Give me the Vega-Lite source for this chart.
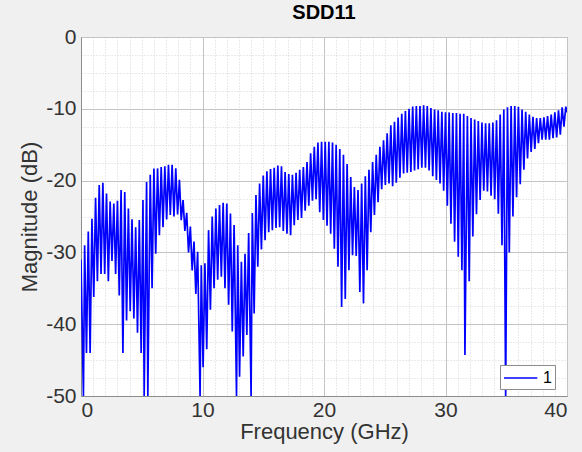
{
  "$schema": "https://vega.github.io/schema/vega-lite/v6.json",
  "width": 486,
  "height": 359,
  "autosize": {"type": "none"},
  "padding": {"left": 81, "top": 37, "right": 15, "bottom": 56},
  "background": "#f0f0f0",
  "config": {
    "view": {"fill": "white", "stroke": "#8c8c8c", "strokeWidth": 1},
    "font": "Liberation Sans"
  },
  "title": {"text": "SDD11", "fontSize": 20, "fontWeight": "bold", "color": "#000000", "offset": 3, "anchor": "middle", "font": "Liberation Sans"},
  "data": {"values": [
    {"f":0,"m":-31},{"f":0.2,"m":-50},{"f":0.3,"m":-29},{"f":0.45,"m":-44},{"f":0.6,"m":-27.1},{"f":0.75,"m":-44},{"f":0.9,"m":-25.3},{"f":1.05,"m":-36.2},{"f":1.2,"m":-22.4},{"f":1.35,"m":-34},{"f":1.5,"m":-20.6},{"f":1.65,"m":-33},{"f":1.8,"m":-20.3},{"f":1.95,"m":-33},{"f":2.1,"m":-21.8},{"f":2.25,"m":-34},{"f":2.4,"m":-22.9},{"f":2.55,"m":-31.2},{"f":2.7,"m":-23.2},{"f":2.85,"m":-33},{"f":3.0,"m":-22.8},{"f":3.15,"m":-36},{"f":3.3,"m":-21.3},{"f":3.45,"m":-44},{"f":3.6,"m":-21.6},{"f":3.75,"m":-39.5},{"f":3.9,"m":-23.9},{"f":4.05,"m":-38.2},{"f":4.2,"m":-25.4},{"f":4.35,"m":-39.2},{"f":4.5,"m":-26.5},{"f":4.65,"m":-41.2},{"f":4.8,"m":-25.5},{"f":4.95,"m":-44},{"f":5.1,"m":-22.7},{"f":5.2,"m":-50},{"f":5.4,"m":-20.2},{"f":5.5,"m":-50},{"f":5.7,"m":-19.2},{"f":5.85,"m":-35},{"f":6.0,"m":-18.3},{"f":6.15,"m":-30.2},{"f":6.3,"m":-18.3},{"f":6.45,"m":-27.6},{"f":6.6,"m":-18.1},{"f":6.75,"m":-26.5},{"f":6.9,"m":-18},{"f":7.05,"m":-25.4},{"f":7.2,"m":-17.8},{"f":7.35,"m":-24.8},{"f":7.5,"m":-17.8},{"f":7.65,"m":-25},{"f":7.8,"m":-18.3},{"f":7.95,"m":-24.7},{"f":8.1,"m":-19.9},{"f":8.25,"m":-25.5},{"f":8.4,"m":-22.7},{"f":8.55,"m":-27},{"f":8.7,"m":-24.5},{"f":8.85,"m":-30},{"f":9.0,"m":-26.4},{"f":9.15,"m":-32.5},{"f":9.3,"m":-28.5},{"f":9.45,"m":-35.8},{"f":9.6,"m":-29.9},{"f":9.8,"m":-50},{"f":9.9,"m":-31.8},{"f":10.05,"m":-46},{"f":10.2,"m":-31.5},{"f":10.35,"m":-43.5},{"f":10.5,"m":-26.9},{"f":10.65,"m":-38},{"f":10.8,"m":-25},{"f":10.95,"m":-35},{"f":11.1,"m":-23.9},{"f":11.25,"m":-33.8},{"f":11.4,"m":-23.4},{"f":11.55,"m":-33.4},{"f":11.7,"m":-23.1},{"f":11.85,"m":-35},{"f":12.0,"m":-23.2},{"f":12.15,"m":-37.3},{"f":12.3,"m":-24.6},{"f":12.45,"m":-41},{"f":12.6,"m":-26.2},{"f":12.8,"m":-50},{"f":12.9,"m":-29},{"f":13.05,"m":-47.3},{"f":13.2,"m":-31.3},{"f":13.35,"m":-44.5},{"f":13.5,"m":-30.2},{"f":13.65,"m":-41.5},{"f":13.8,"m":-27.3},{"f":14.0,"m":-50},{"f":14.1,"m":-24.5},{"f":14.25,"m":-38.5},{"f":14.4,"m":-22},{"f":14.55,"m":-32},{"f":14.7,"m":-20.4},{"f":14.85,"m":-29.6},{"f":15.0,"m":-19.3},{"f":15.15,"m":-28.3},{"f":15.3,"m":-18.7},{"f":15.45,"m":-27.2},{"f":15.6,"m":-18.4},{"f":15.75,"m":-26.9},{"f":15.9,"m":-18.2},{"f":16.05,"m":-26.6},{"f":16.2,"m":-17.9},{"f":16.35,"m":-26.5},{"f":16.5,"m":-18},{"f":16.65,"m":-27},{"f":16.8,"m":-18.8},{"f":16.95,"m":-27.4},{"f":17.1,"m":-19.1},{"f":17.25,"m":-27.6},{"f":17.4,"m":-19.2},{"f":17.55,"m":-26.2},{"f":17.7,"m":-18.9},{"f":17.85,"m":-25.5},{"f":18.0,"m":-18.5},{"f":18.15,"m":-25.2},{"f":18.3,"m":-18.1},{"f":18.45,"m":-24.2},{"f":18.6,"m":-17.4},{"f":18.75,"m":-23.5},{"f":18.9,"m":-16.2},{"f":19.05,"m":-22.8},{"f":19.2,"m":-15.3},{"f":19.35,"m":-22.6},{"f":19.5,"m":-14.7},{"f":19.65,"m":-24.4},{"f":19.8,"m":-14.6},{"f":19.95,"m":-25.5},{"f":20.1,"m":-14.6},{"f":20.25,"m":-26.3},{"f":20.4,"m":-14.6},{"f":20.55,"m":-27.4},{"f":20.7,"m":-14.7},{"f":20.85,"m":-29.5},{"f":21.0,"m":-15},{"f":21.15,"m":-32},{"f":21.3,"m":-15.6},{"f":21.45,"m":-37.6},{"f":21.6,"m":-16.4},{"f":21.75,"m":-36.5},{"f":21.9,"m":-17.7},{"f":22.05,"m":-32.5},{"f":22.2,"m":-19.5},{"f":22.35,"m":-30.4},{"f":22.5,"m":-20.9},{"f":22.65,"m":-30.5},{"f":22.8,"m":-21.3},{"f":22.95,"m":-35.5},{"f":23.1,"m":-20.4},{"f":23.25,"m":-37.1},{"f":23.4,"m":-19.4},{"f":23.55,"m":-32.5},{"f":23.7,"m":-18.5},{"f":23.85,"m":-27.2},{"f":24.0,"m":-17.4},{"f":24.15,"m":-24.8},{"f":24.3,"m":-16.4},{"f":24.45,"m":-23},{"f":24.6,"m":-15.3},{"f":24.75,"m":-21.2},{"f":24.9,"m":-14.4},{"f":25.05,"m":-20.6},{"f":25.2,"m":-13.4},{"f":25.35,"m":-20.4},{"f":25.5,"m":-12.3},{"f":25.65,"m":-20.8},{"f":25.8,"m":-11.8},{"f":25.95,"m":-20.3},{"f":26.1,"m":-11.2},{"f":26.25,"m":-19.6},{"f":26.4,"m":-10.7},{"f":26.55,"m":-19},{"f":26.7,"m":-10.3},{"f":26.85,"m":-18.9},{"f":27.0,"m":-10},{"f":27.15,"m":-18.8},{"f":27.3,"m":-9.7},{"f":27.45,"m":-18.6},{"f":27.6,"m":-9.6},{"f":27.75,"m":-18.4},{"f":27.9,"m":-9.6},{"f":28.05,"m":-18.2},{"f":28.2,"m":-9.5},{"f":28.35,"m":-18.2},{"f":28.5,"m":-9.6},{"f":28.65,"m":-18.6},{"f":28.8,"m":-9.9},{"f":28.95,"m":-19.4},{"f":29.1,"m":-10.1},{"f":29.25,"m":-19.9},{"f":29.4,"m":-10.2},{"f":29.55,"m":-20.4},{"f":29.7,"m":-10.4},{"f":29.85,"m":-21.4},{"f":30.0,"m":-10.5},{"f":30.15,"m":-23.5},{"f":30.3,"m":-10.5},{"f":30.45,"m":-26},{"f":30.6,"m":-10.6},{"f":30.75,"m":-28.5},{"f":30.9,"m":-10.6},{"f":31.05,"m":-30.6},{"f":31.2,"m":-10.7},{"f":31.35,"m":-32.5},{"f":31.5,"m":-10.7},{"f":31.6,"m":-44.3},{"f":31.8,"m":-11},{"f":31.95,"m":-34},{"f":32.1,"m":-11.3},{"f":32.25,"m":-27.8},{"f":32.4,"m":-11.5},{"f":32.55,"m":-24.7},{"f":32.7,"m":-11.7},{"f":32.85,"m":-22.7},{"f":33.0,"m":-11.9},{"f":33.15,"m":-21.4},{"f":33.3,"m":-12},{"f":33.45,"m":-21.5},{"f":33.6,"m":-12},{"f":33.75,"m":-22.1},{"f":33.9,"m":-11.9},{"f":34.05,"m":-22.6},{"f":34.2,"m":-11.6},{"f":34.35,"m":-24.6},{"f":34.5,"m":-10.8},{"f":34.65,"m":-29},{"f":34.8,"m":-10.1},{"f":34.95,"m":-50},{"f":35.1,"m":-9.8},{"f":35.25,"m":-30},{"f":35.4,"m":-9.6},{"f":35.55,"m":-25},{"f":35.7,"m":-9.6},{"f":35.85,"m":-22.3},{"f":36.0,"m":-9.7},{"f":36.15,"m":-20.5},{"f":36.3,"m":-10.1},{"f":36.45,"m":-18.5},{"f":36.6,"m":-10.4},{"f":36.75,"m":-16.9},{"f":36.9,"m":-10.8},{"f":37.05,"m":-16},{"f":37.2,"m":-11.1},{"f":37.35,"m":-15.6},{"f":37.5,"m":-11.3},{"f":37.65,"m":-14.8},{"f":37.8,"m":-11.3},{"f":37.95,"m":-14.3},{"f":38.1,"m":-11.2},{"f":38.25,"m":-14.3},{"f":38.4,"m":-11},{"f":38.55,"m":-14.3},{"f":38.7,"m":-10.8},{"f":38.85,"m":-14.1},{"f":39.0,"m":-10.5},{"f":39.15,"m":-14},{"f":39.3,"m":-10.2},{"f":39.45,"m":-13.6},{"f":39.6,"m":-9.8},{"f":39.75,"m":-12.5},{"f":39.9,"m":-9.7},{"f":40,"m":-10.5}
  ]},
  "layer": [
    {
      "mark": {"type": "point", "opacity": 0},
      "encoding": {
        "x": {"field": "f", "type": "quantitative", "scale": {"domain": [0, 40], "nice": false, "zero": false},
          "axis": {"orient": "bottom", "values": [1,2,3,4,5,6,7,8,9,11,12,13,14,15,16,17,18,19,21,22,23,24,25,26,27,28,29,31,32,33,34,35,36,37,38,39],
            "grid": true, "gridColor": "#d4d4d4", "gridDash": [1, 2], "gridWidth": 1, "labels": false, "ticks": false, "domain": false, "title": null}},
        "y": {"field": "m", "type": "quantitative", "scale": {"domain": [-50, 0], "nice": false, "zero": false},
          "axis": {"orient": "left", "values": [-47.5,-45,-42.5,-37.5,-35,-32.5,-27.5,-25,-22.5,-17.5,-15,-12.5,-7.5,-5,-2.5],
            "grid": true, "gridColor": "#d4d4d4", "gridDash": [1, 2], "gridWidth": 1, "labels": false, "ticks": false, "domain": false, "title": null}}
      }
    },
    {
      "mark": {"type": "line", "strokeWidth": 1.7, "clip": true},
      "encoding": {
        "x": {"field": "f", "type": "quantitative", "scale": {"domain": [0, 40], "nice": false, "zero": false},
          "axis": {"orient": "bottom", "values": [0, 10, 20, 30, 40], "grid": true, "gridColor": "#c4c4c4", "gridWidth": 1,
            "domainColor": "#8c8c8c", "ticks": false, "labelFontSize": 21, "labelColor": "#333333", "labelPadding": 3,
            "labelExpr": "'' + datum.value",
            "title": "Frequency (GHz)", "titleFontSize": 22, "titleFontWeight": "normal", "titleColor": "#333333", "titlePadding": 1, "labelFont": "Liberation Sans", "titleFont": "Liberation Sans"}},
        "y": {"field": "m", "type": "quantitative", "scale": {"domain": [-50, 0], "nice": false, "zero": false},
          "axis": {"orient": "left", "values": [-50, -40, -30, -20, -10, 0], "grid": true, "gridColor": "#c4c4c4", "gridWidth": 1,
            "domainColor": "#8c8c8c", "ticks": false, "labelFontSize": 21, "labelColor": "#333333", "labelPadding": 5,
            "labelExpr": "'' + datum.value",
            "title": "Magnitude (dB)", "titleFontSize": 22, "titleFontWeight": "normal", "titleColor": "#333333", "titlePadding": 4, "labelFont": "Liberation Sans", "titleFont": "Liberation Sans"}},
        "color": {"datum": "1", "type": "nominal", "scale": {"range": ["#0000ff"]},
          "legend": {"title": null, "orient": "none", "legendX": 419, "legendY": 328, "symbolType": "M-1,0H2.7", "symbolSize": 324, "symbolStrokeWidth": 1.5,
            "labelFontSize": 16, "labelColor": "#000000", "fillColor": "white", "strokeColor": "#8c8c8c", "padding": 3, "labelOffset": 20, "labelFont": "Liberation Sans"}}
      }
    }
  ],
  "resolve": {"axis": {"x": "independent", "y": "independent"}}
}
